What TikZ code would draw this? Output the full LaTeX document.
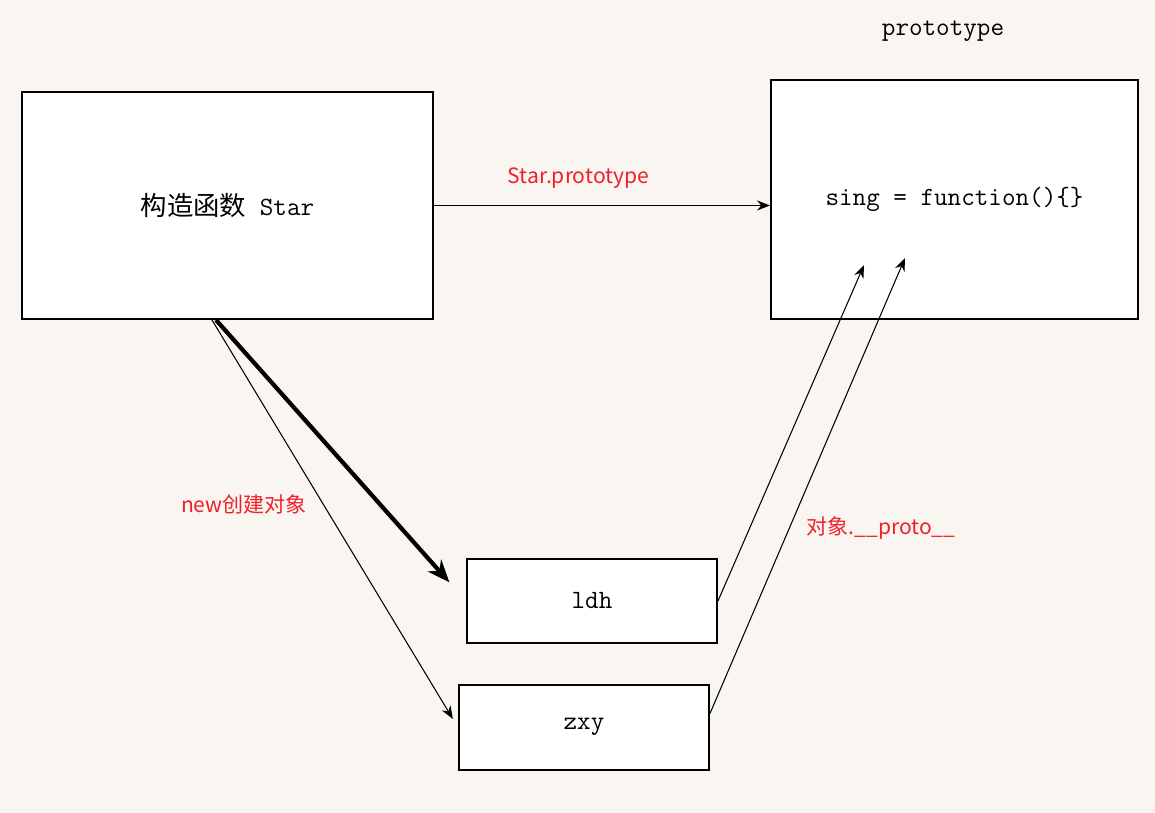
\documentclass[tikz,border=0pt]{standalone}
\usepackage{fontspec}
\setmonofont{Latin Modern Mono}
\newfontfamily\cjk{Noto Sans CJK SC}
\usepackage{tikz}
\usetikzlibrary{arrows.meta,positioning}
\definecolor{paper}{HTML}{F9F6F1}
\definecolor{labelred}{HTML}{F0202A}

\begin{document}
\begin{tikzpicture}[
  box/.style={draw, fill=white, line width=1.1pt, font=\fontsize{15}{18}\selectfont\ttfamily},
  link/.style={-{Stealth[length=2.6mm,width=2mm]}, line width=0.6pt},
  biglink/.style={-{Stealth[length=4.5mm,width=3.6mm]}, line width=2.4pt},
  note/.style={font=\fontsize{12}{14}\selectfont\cjk, text=labelred},
]
% Background
\fill[paper] (0,0) rectangle (23.1,16.26);
\useasboundingbox (0,0) rectangle (23.1,16.26);
% Boxes
\node[box, minimum width=8.22cm, minimum height=4.54cm] (ctor) at (4.55,12.15) {{\cjk 构造函数} Star};
\node[box, minimum width=7.34cm, minimum height=4.78cm] (proto) at (19.09,12.27) {sing = function()\{\}};
\node[box, minimum width=5.0cm, minimum height=1.68cm] (ldh) at (11.84,4.24) {ldh};
\node[box, minimum width=5.0cm, minimum height=1.7cm, text depth=0.15cm] (zxy) at (11.68,1.71) {zxy};
\node[font=\fontsize{15}{18}\selectfont\ttfamily] (title) at (18.86,15.64) {prototype};
% Arrow ends inside the prototype box
\coordinate (tipa) at ([xshift=-1.81cm, yshift=-1.31cm]proto.center);
\coordinate (tipb) at ([xshift=-0.99cm, yshift=-1.17cm]proto.center);
% Connectors
\draw[link] (ctor.east) -- (ctor.east -| proto.west) node[note, pos=0.43, above=0.22cm] (lblproto) {Star.prototype};
\draw[biglink, shorten >=0.5cm] ([xshift=-0.23cm]ctor.south) -- (ldh.west);
\draw[link, shorten >=0.2cm] ([xshift=-0.31cm]ctor.south) -- (zxy.west);
\draw[link] (ldh.east) -- (tipa);
\draw[link] ([yshift=0.28cm]zxy.east) -- (tipb);
% Labels
\node[note] (lblnew) at (4.88,6.18) {new创建对象};
\node[note] (lblobj) at (17.62,5.70) {对象.\_\_proto\_\_};
\end{tikzpicture}
\end{document}
